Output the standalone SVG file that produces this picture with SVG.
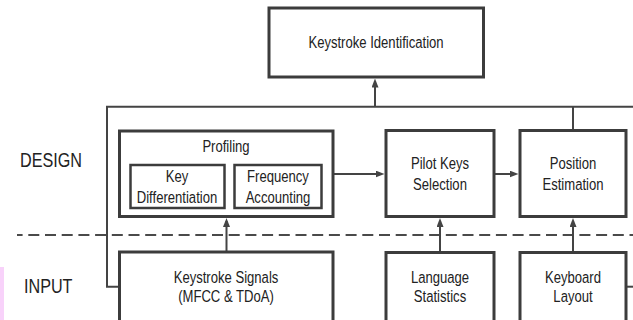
<svg xmlns="http://www.w3.org/2000/svg" width="633" height="320" viewBox="0 0 633 320">
<defs>
<style>
.box{fill:#fff;stroke:#3c3c3c;stroke-width:3}
.inner{fill:#fff;stroke:#3c3c3c;stroke-width:2.5}
.conn{fill:none;stroke:#444;stroke-width:2}
.dash{fill:none;stroke:#4a4a4a;stroke-width:2;stroke-dasharray:11 5.7;stroke-dashoffset:5.4}
.t{font-family:"Liberation Sans",Arial,sans-serif;font-size:17px;fill:#222;text-anchor:middle}
.lbl{font-family:"Liberation Sans",Arial,sans-serif;font-size:21px;fill:#222}
</style>
<marker id="arr" viewBox="0 0 9 7" markerUnits="userSpaceOnUse" markerWidth="9" markerHeight="7" refX="6" refY="3.5" orient="auto">
<path d="M0,0 L9,3.5 L0,7 z" fill="#444"/>
</marker>
</defs>
<rect width="633" height="320" fill="#fff"/>
<rect x="0" y="267" width="4" height="53" fill="#f8d2fa"/>
<text class="lbl" transform="translate(20,167) scale(0.77,1)">DESIGN</text>
<text class="lbl" transform="translate(24,293) scale(0.77,1)">INPUT</text>
<g id="connectors">
<line class="dash" x1="17" y1="235" x2="633" y2="235"/>
<path class="conn" d="M119.5,286.7 H107 V106.7 H633"/>
<line class="conn" x1="375" y1="106.7" x2="375" y2="81.5" marker-end="url(#arr)"/>
<line class="conn" x1="573" y1="106.7" x2="573" y2="130.5"/>
<line class="conn" x1="333" y1="174" x2="381.5" y2="174" marker-end="url(#arr)"/>
<line class="conn" x1="494" y1="174" x2="515.5" y2="174" marker-end="url(#arr)"/>
<line class="conn" x1="226.5" y1="252" x2="226.5" y2="221" marker-end="url(#arr)"/>
<line class="conn" x1="440" y1="252" x2="440" y2="221" marker-end="url(#arr)"/>
<line class="conn" x1="573" y1="252" x2="573" y2="221" marker-end="url(#arr)"/>
<line class="conn" x1="626" y1="286.7" x2="633" y2="286.7"/>
</g>
<g id="keystroke-identification">
<rect class="box" x="269" y="8" width="214.5" height="69"/>
<text class="t" transform="translate(376,48) scale(0.77,1)">Keystroke Identification</text>
</g>
<g id="profiling">
<rect class="box" x="119.5" y="131" width="213.5" height="85.5"/>
<text class="t" transform="translate(226,151.5) scale(0.77,1)">Profiling</text>
</g>
<g id="key-differentiation">
<rect class="inner" x="130.5" y="165" width="94" height="43"/>
<text class="t" transform="translate(177,181.7) scale(0.77,1)"><tspan x="0" y="0">Key</tspan><tspan x="0" y="21.3">Differentiation</tspan></text>
</g>
<g id="frequency-accounting">
<rect class="inner" x="234.5" y="165" width="87" height="43"/>
<text class="t" transform="translate(278,181.7) scale(0.77,1)"><tspan x="0" y="0">Frequency</tspan><tspan x="0" y="21.3">Accounting</tspan></text>
</g>
<g id="pilot-keys-selection">
<rect class="box" x="386" y="130.5" width="108" height="86"/>
<text class="t" transform="translate(440,169) scale(0.77,1)"><tspan x="0" y="0">Pilot Keys</tspan><tspan x="0" y="21">Selection</tspan></text>
</g>
<g id="position-estimation">
<rect class="box" x="520" y="130.5" width="106" height="86"/>
<text class="t" transform="translate(573,169) scale(0.77,1)"><tspan x="0" y="0">Position</tspan><tspan x="0" y="21">Estimation</tspan></text>
</g>
<g id="keystroke-signals">
<rect class="box" x="119.5" y="252" width="213.5" height="80"/>
<text class="t" transform="translate(226,282.5) scale(0.77,1)"><tspan x="0" y="0">Keystroke Signals</tspan><tspan x="0" y="20">(MFCC &amp; TDoA)</tspan></text>
</g>
<g id="language-statistics">
<rect class="box" x="386" y="252.5" width="108" height="80"/>
<text class="t" transform="translate(440,282.5) scale(0.77,1)"><tspan x="0" y="0">Language</tspan><tspan x="0" y="20">Statistics</tspan></text>
</g>
<g id="keyboard-layout">
<rect class="box" x="520" y="252.5" width="106" height="80"/>
<text class="t" transform="translate(573,282.5) scale(0.77,1)"><tspan x="0" y="0">Keyboard</tspan><tspan x="0" y="20">Layout</tspan></text>
</g>
</svg>
